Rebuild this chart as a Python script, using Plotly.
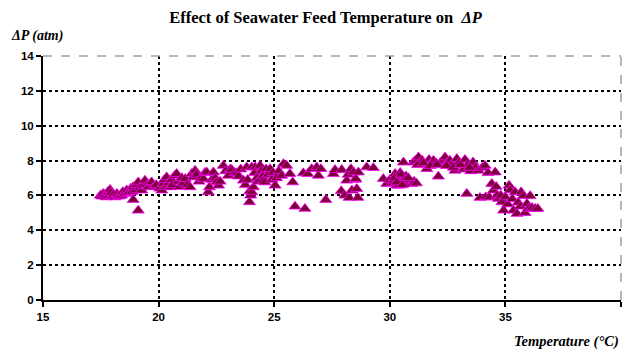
import plotly.graph_objects as go

# Data (Temperature °C, ΔP atm)
temp_a = [17.48, 17.55, 17.6, 17.68, 17.72, 17.8, 17.85, 17.9, 17.95, 18.0, 18.05, 18.12, 18.2, 18.25, 18.3,
          18.4, 18.45, 18.55, 18.62, 18.7, 18.8, 18.85, 18.9, 18.9, 19.0, 19.05, 19.12, 19.12, 19.2, 19.27,
          19.35, 19.41, 19.5, 19.56, 19.65, 19.7, 19.8, 19.9]
dp_a = [6.0, 5.95, 6.1, 6.05, 5.9, 6.2, 6.0, 6.33, 6.15, 5.95, 6.05, 5.9, 6.1, 6.0, 5.95,
        6.0, 6.2, 6.1, 6.3, 6.15, 6.4, 6.2, 5.75, 6.48, 6.3, 6.6, 5.14, 6.76, 6.45, 6.29,
        6.55, 6.86, 6.6, 6.48, 6.7, 6.76, 6.5, 6.6]

temp_b = [20.05, 20.14, 20.2, 20.25, 20.3, 20.35, 20.42, 20.5, 20.55, 20.6, 20.7, 20.78, 20.85, 20.9, 21.0,
          21.05, 21.15, 21.25, 21.36, 21.43, 21.5, 21.58, 21.65, 21.75, 21.85, 21.94, 22.0, 22.08, 22.15, 22.2,
          22.3, 22.37, 22.45, 22.51, 22.59, 22.66, 22.8, 22.9]
dp_b = [6.4, 6.29, 6.67, 6.9, 6.5, 7.05, 6.7, 6.48, 6.9, 6.6, 7.14, 7.24, 6.8, 6.5, 7.0,
        6.7, 6.95, 6.6, 6.48, 7.24, 7.05, 7.43, 7.2, 6.8, 7.0, 6.95, 7.3, 7.33, 6.19, 6.48,
        6.9, 7.33, 7.0, 6.76, 6.57, 6.8, 7.71, 7.4]

temp_c = [23.02, 23.1, 23.16, 23.3, 23.38, 23.45, 23.55, 23.67, 23.75, 23.81, 23.85, 23.93, 23.95, 23.98, 24.03,
          24.03, 24.1, 24.15, 24.17, 24.25, 24.3, 24.39, 24.45, 24.5, 24.53, 24.6, 24.65, 24.75, 24.82, 24.9,
          24.95, 25.04, 25.1, 25.2, 25.32, 25.4, 25.54, 25.68, 25.8, 25.9]
dp_c = [7.14, 7.5, 7.47, 7.3, 7.28, 7.1, 7.5, 6.86, 6.6, 7.62, 6.9, 5.62, 6.25, 6.0, 6.19,
        7.62, 6.48, 7.3, 7.62, 7.0, 6.8, 7.71, 7.4, 7.1, 6.86, 6.76, 7.5, 7.2, 7.52, 6.9,
        7.3, 6.57, 7.0, 7.4, 7.14, 7.81, 7.71, 7.24, 6.76, 5.37]

temp_d = [26.26, 26.33, 26.45, 26.62, 26.84, 26.91, 27.02, 27.23, 27.56, 27.63, 27.9, 27.92, 28.05, 28.14,
          28.2, 28.24, 28.32, 28.36, 28.43, 28.5, 28.53, 28.57, 28.62, 28.64, 29.0, 29.29, 29.72, 29.87]
dp_d = [7.28, 5.24, 7.24, 7.52, 7.62, 7.14, 7.52, 5.75, 7.24, 7.47, 6.25, 7.47, 6.0, 6.86,
        7.2, 5.87, 7.52, 6.29, 7.33, 6.9, 6.95, 6.38, 5.87, 7.33, 7.62, 7.58, 6.95, 6.67]

temp_e = [30.0, 30.1, 30.16, 30.23, 30.3, 30.35, 30.4, 30.45, 30.5, 30.59, 30.6, 30.7, 30.75, 30.85, 30.95,
          31.02, 31.05, 31.1, 31.15, 31.24, 31.3, 31.4, 31.5, 31.6, 31.7, 31.8, 31.89, 32.0, 32.1, 32.2,
          32.3, 32.39, 32.5, 32.6, 32.7, 32.82, 32.9, 33.0, 33.1, 33.2, 33.25, 33.33, 33.4, 33.5, 33.6,
          33.7, 33.83, 33.9, 34.0, 34.12, 34.15, 34.25, 34.3, 34.41, 34.48,
          30.2, 30.5, 30.65, 30.8, 31.2, 31.45, 31.75, 32.05, 32.45, 32.75, 33.05, 33.45, 30.3, 30.55]
dp_e = [6.9, 6.7, 6.86, 7.24, 6.57, 7.0, 6.57, 7.3, 6.9, 7.9, 6.7, 7.1, 6.8, 6.7, 6.67,
        7.9, 6.8, 8.0, 6.7, 8.19, 7.9, 8.0, 7.8, 7.52, 8.05, 7.9, 8.0, 7.85, 7.09, 7.9,
        8.0, 8.19, 7.9, 8.0, 7.8, 7.43, 8.1, 7.9, 7.7, 7.5, 8.05, 6.1, 7.8, 7.4, 7.9,
        7.6, 7.43, 5.87, 7.6, 7.71, 5.9, 7.3, 5.9, 6.67, 6.29,
        7.0, 7.2, 6.9, 7.0, 7.75, 7.85, 7.7, 7.75, 7.7, 7.6, 7.75, 7.6, 6.75, 6.6]

temp_f = [34.56, 34.6, 34.65, 34.7, 34.8, 34.85, 34.92, 35.0, 35.1, 35.16, 35.2, 35.3, 35.35, 35.42, 35.5,
          35.55, 35.64, 35.68, 35.78, 35.85, 35.93, 36.0, 36.07, 36.15, 36.29, 36.4]
dp_f = [7.33, 6.5, 6.0, 5.81, 6.0, 5.62, 5.14, 5.9, 5.5, 6.57, 6.3, 5.8, 5.14, 6.19, 4.95,
        5.6, 5.37, 6.19, 5.97, 5.0, 5.52, 5.24, 5.97, 5.3, 5.24, 5.24]

temperature = temp_a + temp_b + temp_c + temp_d + temp_e + temp_f
delta_p = dp_a + dp_b + dp_c + dp_d + dp_e + dp_f

x_ticks = [15, 20, 25, 30, 35, 40]
y_ticks = [0, 2, 4, 6, 8, 10, 12, 14]

SERIF = "Liberation Serif"
SANS = "Arial"

fig = go.Figure()
fig.add_trace(go.Scatter(
    x=temperature, y=delta_p, mode="markers",
    marker=dict(symbol="triangle-up", size=10.5, color="#7A0035",
                line=dict(color="#FF00FF", width=0.8)),
    showlegend=False, cliponaxis=False,
))

tick_font = dict(family=SANS, size=11.5, color="black", weight="bold")

fig.update_layout(
    width=626, height=353,
    margin=dict(l=43, r=5, t=56, b=53),
    paper_bgcolor="white", plot_bgcolor="white",
    title=dict(
        text="Effect of Seawater Feed Temperature on  <i>ΔP</i>",
        font=dict(family=SERIF, size=16.5, color="black", weight="bold"),
        x=0.52, xanchor="center", y=0.95, yanchor="middle",
    ),
    xaxis=dict(
        range=[15, 40], tickvals=x_ticks, ticktext=[f"<b>{v}</b>" for v in x_ticks],
        showgrid=True, gridcolor="black", griddash="dot", gridwidth=1.5,
        showline=True, linecolor="black", linewidth=2,
        ticks="outside", ticklen=5, tickwidth=1.5, tickcolor="black",
        tickfont=tick_font, zeroline=False,
    ),
    yaxis=dict(
        range=[0, 14], tickvals=y_ticks, ticktext=[f"<b>{v}</b>" for v in y_ticks],
        showgrid=True, gridcolor="black", griddash="dot", gridwidth=1.5,
        showline=True, linecolor="black", linewidth=2,
        ticks="outside", ticklen=5, tickwidth=1.5, tickcolor="black",
        tickfont=tick_font, zeroline=False,
    ),
    shapes=[
        dict(type="line", xref="paper", yref="paper", x0=0, x1=1, y0=1, y1=1,
             line=dict(color="#A0A0A0", width=1.5, dash="dash"), layer="above"),
        dict(type="line", xref="paper", yref="paper", x0=1, x1=1, y0=0, y1=1,
             line=dict(color="#A0A0A0", width=1.5, dash="dash"), layer="above"),
    ],
    annotations=[
        dict(text="<i>ΔP (atm)</i>", xref="paper", yref="paper",
             x=-0.058, y=1.04, xanchor="left", yanchor="bottom", showarrow=False,
             font=dict(family=SERIF, size=14, color="black", weight="bold")),
        dict(text="<i>Temperature (°C)</i>", xref="paper", yref="paper",
             x=1.0, y=-0.125, xanchor="right", yanchor="top", showarrow=False,
             font=dict(family=SERIF, size=14.5, color="black", weight="bold")),
    ],
)

fig.write_html("out.html")
